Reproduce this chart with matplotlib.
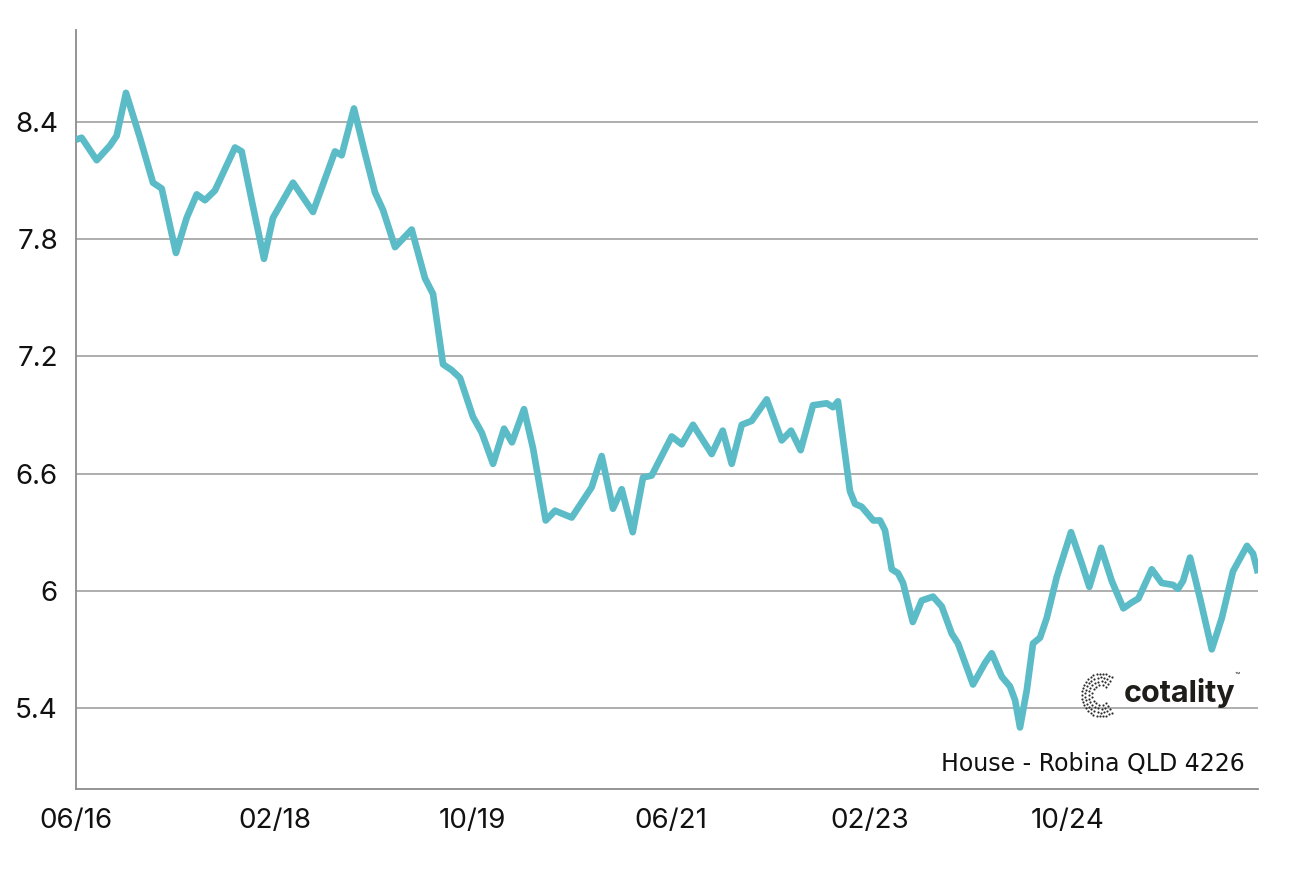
# Robina QLD 4226 house series - recreated line chart
import numpy as np
import matplotlib.pyplot as plt

plt.rcParams['font.family'] = ['Inter', 'DejaVu Sans']

# months since 06/16
months = [0.0, 0.57, 2.09, 3.43, 4.10, 5.04, 6.45, 7.76, 8.64, 10.08,
          11.16, 12.17, 13.00, 14.01, 16.03, 16.70, 17.71, 18.95, 19.86, 21.88,
          23.89, 26.11, 26.78, 28.02, 29.13, 30.14, 30.95, 32.16, 33.84, 35.18,
          35.99, 37.00, 37.87, 38.71, 40.02, 40.90, 42.04, 43.15, 43.95, 45.16,
          46.07, 47.35, 48.29, 49.97, 51.98, 52.99, 54.13, 55.01, 56.12, 57.16,
          58.03, 60.05, 61.06, 62.20, 64.08, 65.19, 66.10, 67.11, 68.11, 69.63,
          71.14, 72.08, 73.05, 74.29, 75.68, 76.31, 76.81, 78.02, 78.53, 79.20,
          80.37, 81.05, 81.55, 82.23, 82.86, 83.37, 84.35, 85.25, 86.39, 87.27,
          88.28, 88.91, 90.42, 91.63, 92.31, 93.32, 94.15, 94.66, 95.16, 95.84,
          96.47, 97.18, 97.85, 98.86, 100.30, 101.38, 102.15, 103.33, 104.41, 105.58,
          106.42, 107.09, 108.44, 109.44, 110.58, 111.09, 111.59, 112.30, 113.31, 114.49,
          115.50, 116.63, 118.04, 118.65, 119.15]
values = [8.31, 8.32, 8.205, 8.28, 8.33, 8.55, 8.32, 8.09, 8.06, 7.73,
          7.91, 8.03, 8.00, 8.05, 8.27, 8.25, 8.00, 7.70, 7.91, 8.09,
          7.94, 8.25, 8.23, 8.47, 8.24, 8.04, 7.95, 7.76, 7.85, 7.60,
          7.52, 7.16, 7.13, 7.09, 6.89, 6.81, 6.65, 6.83, 6.76, 6.93,
          6.73, 6.36, 6.41, 6.375, 6.53, 6.69, 6.42, 6.52, 6.30, 6.58,
          6.59, 6.79, 6.75, 6.85, 6.70, 6.82, 6.65, 6.85, 6.87, 6.98,
          6.77, 6.82, 6.72, 6.95, 6.96, 6.94, 6.97, 6.51, 6.445, 6.43,
          6.36, 6.36, 6.31, 6.11, 6.09, 6.04, 5.84, 5.95, 5.97, 5.92,
          5.78, 5.73, 5.52, 5.63, 5.68, 5.56, 5.51, 5.44, 5.30, 5.49,
          5.73, 5.76, 5.86, 6.07, 6.30, 6.14, 6.02, 6.22, 6.05, 5.91,
          5.94, 5.96, 6.11, 6.04, 6.03, 6.01, 6.05, 6.17, 5.96, 5.70,
          5.86, 6.10, 6.23, 6.19, 6.09]

tick_pos = [0, 20, 40, 60, 80, 100]
tick_labels = ['06/16', '02/18', '10/19', '06/21', '02/23', '10/24']
y_ticks = [5.4, 6.0, 6.6, 7.2, 7.8, 8.4]
y_labels = ['5.4', '6', '6.6', '7.2', '7.8', '8.4']

fig = plt.figure(figsize=(12.9, 8.71), dpi=100)
ax = fig.add_axes([0.0589, 0.0942, 0.9163, 0.8714])

ax.plot(months, values, color='#5bbcc8', lw=4.8,
        solid_joinstyle='round', solid_capstyle='butt', zorder=3)

ax.set_xlim(0, 119.15)
ax.set_ylim(4.985, 8.872)
ax.set_xticks(tick_pos)
ax.set_xticklabels(tick_labels)
ax.set_yticks(y_ticks)
ax.set_yticklabels(y_labels)
ax.tick_params(axis='both', length=0, labelsize=20, colors='#111111')
ax.tick_params(axis='y', pad=13)
ax.tick_params(axis='x', pad=14)

ax.grid(axis='y', color='#999999', lw=1.1)
ax.set_axisbelow(True)
for s in ['top', 'right']:
    ax.spines[s].set_visible(False)
for s in ['left', 'bottom']:
    ax.spines[s].set_color('#8c8c8c')
    ax.spines[s].set_linewidth(1.3)

# caption
ax.text(0.9885, 0.0335, 'House - Robina QLD 4226', transform=ax.transAxes,
        ha='right', va='center', fontsize=17, color='#111111',
        family='DejaVu Sans')

# logo: dotted "C" mark plus word
ax.text(0.9805, 0.127, 'cotality', transform=ax.transAxes, ha='right',
        va='center', fontsize=22, fontweight='bold', color='#1f1d1a')
ax.text(0.9845, 0.149, '™', transform=ax.transAxes, ha='right',
        va='center', fontsize=6, color='#1f1d1a')
icon = fig.add_axes([1080 / 1290, 1 - 720 / 871, 44 / 1290, 50 / 871])
icon.set_xlim(-21, 23)
icon.set_ylim(-25, 25)
icon.axis('off')
for r in [9, 12.5, 16, 19.5]:
    ang = np.linspace(np.radians(55), np.radians(305), int(r * 1.4))
    icon.scatter(r * np.cos(ang), r * np.sin(ang) * 1.1, s=2.4,
                 color='#2a2a2a', linewidths=0)

fig.savefig('out.png', dpi=100)
